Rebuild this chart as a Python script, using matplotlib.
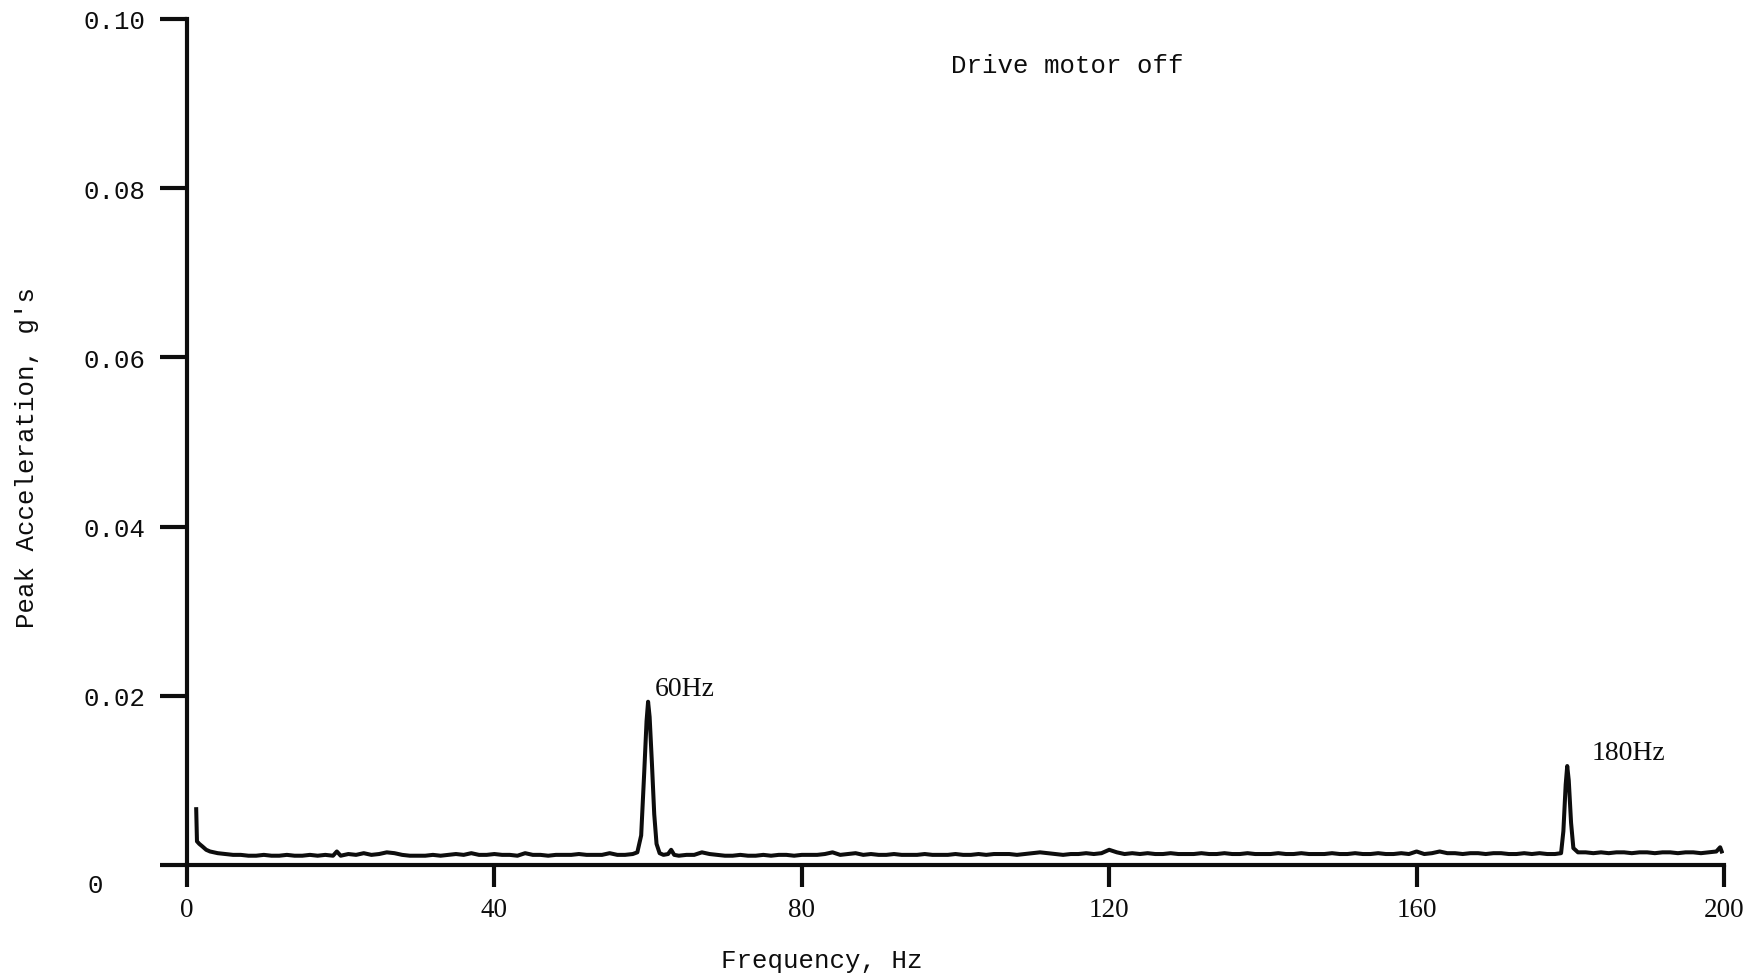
import matplotlib
matplotlib.use("Agg")
import matplotlib.pyplot as plt
from matplotlib.transforms import ScaledTranslation

# ---- data ----
freq_hz = [1.2, 1.3, 1.6, 2, 2.5, 3, 4, 5, 6, 7, 8, 9, 10, 11, 12, 13, 14, 15, 16, 17, 18, 19, 19.5, 20,
           21, 22, 23, 24, 25, 26, 27, 28, 29, 30, 31, 32, 33, 34, 35, 36, 37, 38, 39, 40,
           41, 42, 43, 44, 45, 46, 47, 48, 49, 50, 51, 52, 53, 54, 55, 56, 57, 58,
           58.6, 59.1, 59.5, 59.8, 60.0, 60.2, 60.5, 60.8, 61.1, 61.5, 62, 62.6, 63, 63.4,
           64, 65, 66, 67, 68, 69, 70, 71, 72, 73, 74, 75, 76, 77, 78, 79, 80,
           81, 82, 83, 84, 85, 86, 87, 88, 89, 90, 91, 92, 93, 94, 95, 96, 97, 98, 99, 100,
           101, 102, 103, 104, 105, 106, 107, 108, 109, 110, 111, 112, 113, 114, 115, 116, 117, 118, 119, 120,
           121, 122, 123, 124, 125, 126, 127, 128, 129, 130, 131, 132, 133, 134, 135, 136, 137, 138, 139, 140,
           141, 142, 143, 144, 145, 146, 147, 148, 149, 150, 151, 152, 153, 154, 155, 156, 157, 158, 159, 160,
           161, 162, 163, 164, 165, 166, 167, 168, 169, 170, 171, 172, 173, 174, 175, 176, 177, 178,
           178.8, 179.1, 179.4, 179.6, 179.8, 180.1, 180.4, 181,
           182, 183, 184, 185, 186, 187, 188, 189, 190, 191, 192, 193, 194, 195, 196, 197, 198, 199, 199.5, 199.7]

accel_g = [0.0066, 0.0028, 0.0025, 0.0022, 0.0018, 0.0016, 0.0014, 0.0013, 0.0012, 0.0012, 0.0011, 0.0011,
           0.0012, 0.0011, 0.0011, 0.0012, 0.0011, 0.0011, 0.0012, 0.0011, 0.0012, 0.0011, 0.0016, 0.0011,
           0.0013, 0.0012, 0.0014, 0.0012, 0.0013, 0.0015, 0.0014, 0.0012, 0.0011, 0.0011, 0.0011, 0.0012,
           0.0011, 0.0012, 0.0013, 0.0012, 0.0014, 0.0012, 0.0012, 0.0013,
           0.0012, 0.0012, 0.0011, 0.0014, 0.0012, 0.0012, 0.0011, 0.0012, 0.0012, 0.0012, 0.0013, 0.0012,
           0.0012, 0.0012, 0.0014, 0.0012, 0.0012, 0.0013,
           0.0015, 0.0035, 0.0110, 0.0170, 0.0193, 0.0175, 0.0120, 0.0060, 0.0025, 0.0014, 0.0012, 0.0013,
           0.0018, 0.0012,
           0.0011, 0.0012, 0.0012, 0.0015, 0.0013, 0.0012, 0.0011, 0.0011, 0.0012, 0.0011, 0.0011, 0.0012,
           0.0011, 0.0012, 0.0012, 0.0011, 0.0012,
           0.0012, 0.0012, 0.0013, 0.0015, 0.0012, 0.0013, 0.0014, 0.0012, 0.0013, 0.0012, 0.0012, 0.0013,
           0.0012, 0.0012, 0.0012, 0.0013, 0.0012, 0.0012, 0.0012, 0.0013,
           0.0012, 0.0012, 0.0013, 0.0012, 0.0013, 0.0013, 0.0013, 0.0012, 0.0013, 0.0014, 0.0015, 0.0014,
           0.0013, 0.0012, 0.0013, 0.0013, 0.0014, 0.0013, 0.0014, 0.0018,
           0.0015, 0.0013, 0.0014, 0.0013, 0.0014, 0.0013, 0.0013, 0.0014, 0.0013, 0.0013, 0.0013, 0.0014,
           0.0013, 0.0013, 0.0014, 0.0013, 0.0013, 0.0014, 0.0013, 0.0013,
           0.0013, 0.0014, 0.0013, 0.0013, 0.0014, 0.0013, 0.0013, 0.0013, 0.0014, 0.0013, 0.0013, 0.0014,
           0.0013, 0.0013, 0.0014, 0.0013, 0.0013, 0.0014, 0.0013, 0.0016,
           0.0013, 0.0014, 0.0016, 0.0014, 0.0014, 0.0013, 0.0014, 0.0014, 0.0013, 0.0014, 0.0014, 0.0013,
           0.0013, 0.0014, 0.0013, 0.0014, 0.0013, 0.0013,
           0.0014, 0.0040, 0.0095, 0.0117, 0.0100, 0.0050, 0.0020, 0.0015,
           0.0015, 0.0014, 0.0015, 0.0014, 0.0015, 0.0015, 0.0014, 0.0015, 0.0015, 0.0014, 0.0015, 0.0015,
           0.0014, 0.0015, 0.0015, 0.0014, 0.0015, 0.0016, 0.0021, 0.0016]

x_ticks = [0, 40, 80, 120, 160, 200]
x_ticklabels = ["0", "40", "80", "120", "160", "200"]
y_ticks = [0, 0.02, 0.04, 0.06, 0.08, 0.10]
y_ticklabels = ["0", "0.02", "0.04", "0.06", "0.08", "0.10"]

peak_labels = ["60Hz", "180Hz"]
peak_label_x = [60.9, 182.8]
peak_label_y = [0.0209, 0.0133]

mono = "Liberation Mono"
serif = "Liberation Serif"
ink = "#0d0d0d"

fig = plt.figure(figsize=(17.59, 9.79), dpi=100)
ax = fig.add_axes([0.1063, 0.1154, 0.9801 - 0.1063, 0.9796 - 0.1154])

ax.plot(freq_hz, accel_g, color=ink, lw=2.9, solid_joinstyle="round")

ax.set_xlim(0, 200)
ax.set_ylim(0, 0.10)

for s in ["top", "right"]:
    ax.spines[s].set_visible(False)
for s in ["left", "bottom"]:
    ax.spines[s].set_linewidth(3.0)
    ax.spines[s].set_color(ink)

ax.set_xticks(x_ticks)
ax.set_xticklabels(x_ticklabels, fontfamily=serif, fontsize=19.5, color=ink)
ax.set_yticks(y_ticks)
ax.set_yticklabels(y_ticklabels, fontfamily=mono, fontsize=18.5, color=ink)
ax.tick_params(axis="x", length=16, width=3.0, pad=7, color=ink)
ax.tick_params(axis="y", length=19.5, width=3.0, pad=55, color=ink)
for lab in ax.get_yticklabels():
    lab.set_horizontalalignment("left")
# the "0" label sits below the axis in the original
ylabs = ax.get_yticklabels()
ylabs[0].set_transform(ylabs[0].get_transform() + ScaledTranslation(0.04, -0.17, fig.dpi_scale_trans))

for txt, xx, yy in zip(peak_labels, peak_label_x, peak_label_y):
    ax.text(xx, yy, txt, fontfamily=serif, fontsize=20, ha="left", va="center", color=ink)

ax.text(114.6, 0.0946, "Drive motor off", fontfamily=mono, fontsize=18.5, ha="center", va="center",
        color=ink)

fig.text(822 / 1759, 1 - 961 / 979, "Frequency, Hz", fontfamily=mono, fontsize=18.5,
         ha="center", va="center", color=ink)
fig.text(27 / 1759, 1 - 458 / 979, "Peak Acceleration, g's", fontfamily=mono, fontsize=18.5,
         ha="center", va="center", rotation=90, color=ink)

fig.savefig("out.png", dpi=100)
